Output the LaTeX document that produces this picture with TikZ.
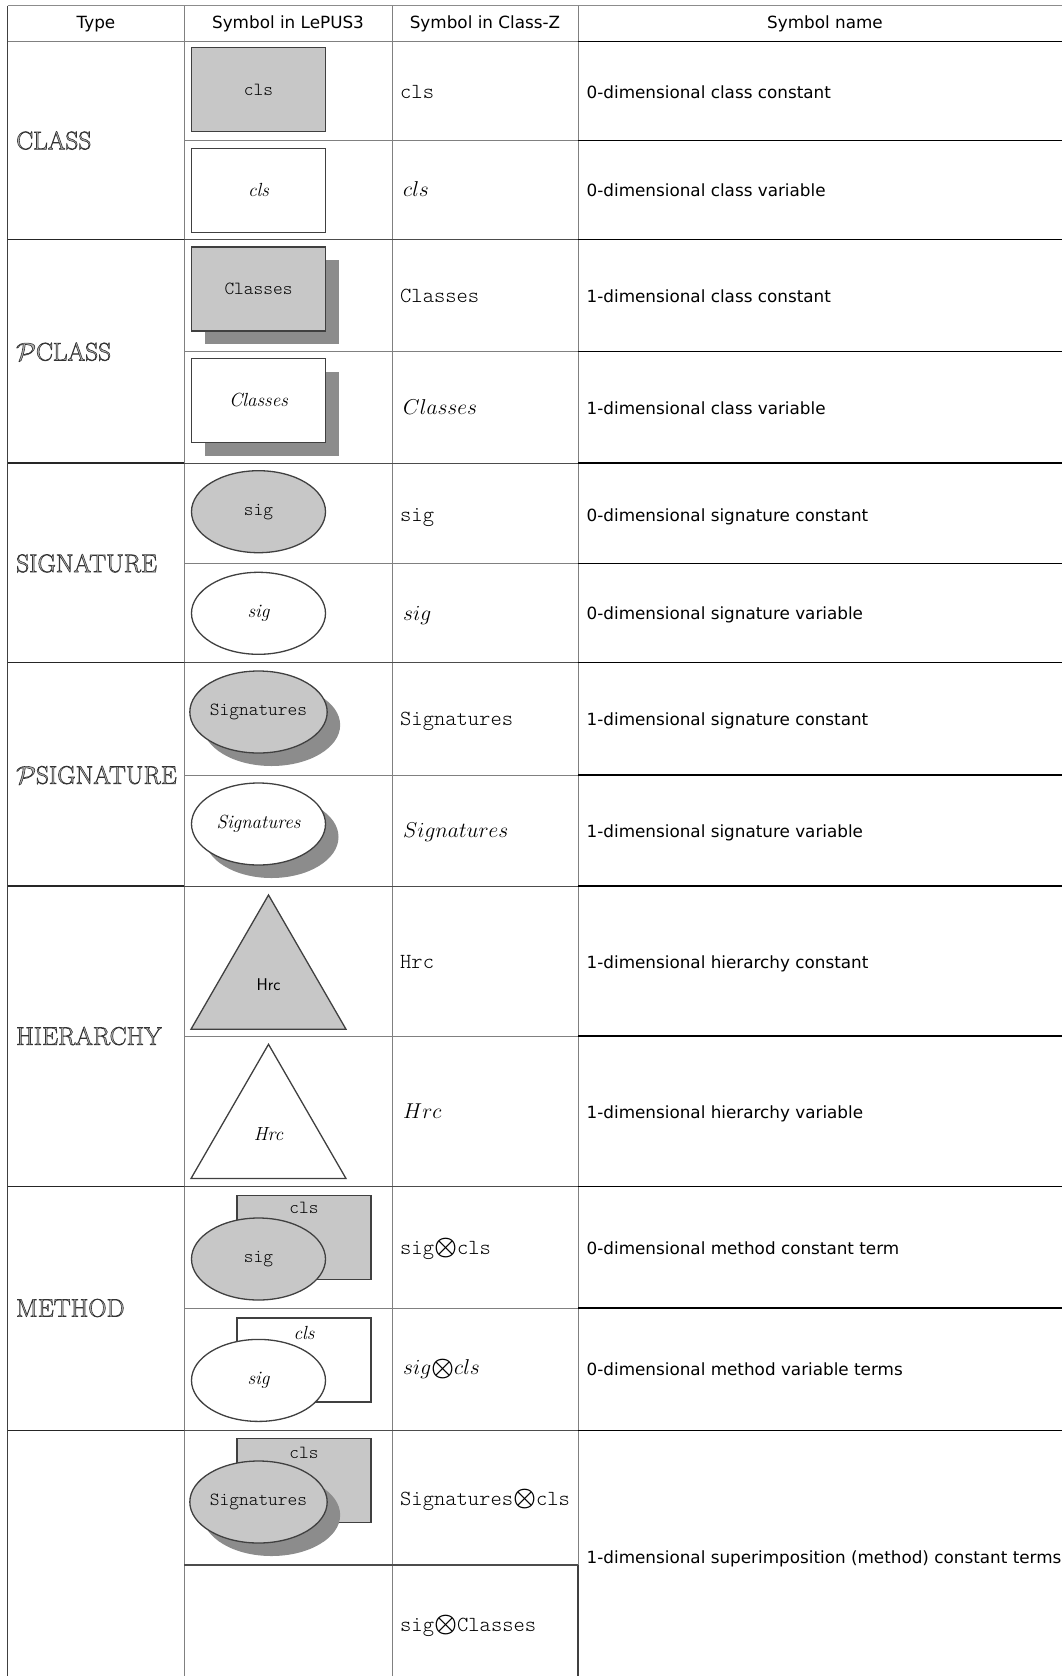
\documentclass[tikz,border=0pt]{standalone}
\usepackage{fix-cm}
\usepackage{amsmath,amssymb}
\usepackage{fontspec}
\newfontfamily\namefont{DejaVu Sans}
\newfontfamily\zfont{Latin Modern Mono Light}
\usetikzlibrary{shapes.geometric,shadows}

% engraved look for the type names
\newcommand\engrave[1]{\special{pdf:literal direct 0.2 G 0.6 w 2 Tr}#1\special{pdf:literal direct 0 Tr}}
\newcommand\czprod{\raisebox{-0.5pt}{\scalebox{1.2}{$\boldsymbol{\otimes}$}}}

\begin{document}
\begin{tikzpicture}[x=1pt, y=-1pt,
  gridline/.style={draw=black!50, line width=1pt},
  rowline/.style={draw=black!50, line width=1pt},
  groupline/.style={draw=black!85, line width=1.5pt},
  nameline/.style={draw=black, line width=1.5pt},
  hdr/.style={font=\namefont\fontsize{16.8}{20}\selectfont, inner sep=0pt,
              text height=12pt, text depth=3pt},
  symname/.style={anchor=west, inner sep=0pt, text height=12pt, text depth=3pt,
                  font=\namefont\fontsize{16.8}{20}\selectfont},
  kind/.style={anchor=west, inner sep=0pt, text=black!30,
               font=\fontsize{25.4}{28}\selectfont},
  zcon/.style={anchor=west, inner sep=0pt, text height=14pt, text depth=4pt,
               font=\zfont\fontsize{21.5}{24}\selectfont},
  zvar/.style={anchor=west, inner sep=0pt, text height=14pt, text depth=4pt,
               font=\fontsize{21.5}{24}\selectfont},
  clsbox/.style={draw=black!75, line width=1.5pt, minimum width=134pt,
                 minimum height=84pt, inner sep=0pt},
  sigell/.style={ellipse, draw=black!75, line width=1.3pt, minimum width=134pt,
                 minimum height=82pt, inner sep=0pt},
  hrctri/.style={regular polygon, regular polygon sides=3, draw=black!75,
                 line width=1.3pt, minimum size=179pt, inner sep=0pt},
  konst/.style={fill=black!22},
  varb/.style={fill=white},
  dshadow/.style={drop shadow={shadow xshift=13pt, shadow yshift=-13pt,
                  fill=black!45, opacity=1}},
  lcon/.style={font=\zfont\fontsize{18.5}{20}\selectfont},
  lvar/.style={font=\itshape\fontsize{19}{21}\selectfont},
  lhrc/.style={font=\sffamily\fontsize{17}{20}\selectfont}
]
\useasboundingbox (0,0) rectangle (1062,1676);
\clip (0,0) rectangle (1062,1676);

% Table rules
\draw[draw=black!45, line width=1pt] (7.5,5.5) -- (1075,5.5);
\draw[draw=black!75, line width=1.5pt] (7.5,5.5) -- (7.5,1676);
\draw[gridline] (184,5.5) -- (184,1676);
\draw[gridline] (392,5.5) -- (392,1676);
\draw[gridline] (578,5.5) -- (578,1565);
\draw[draw=black!75, line width=1.5pt] (578,1565) -- (578,1676);
\draw[gridline] (7.5,41.7) -- (578,41.7);
\draw[draw=black, line width=1pt] (578,41.7) -- (1075,41.7);

% rows inside a group
\draw[rowline] (184,140.5) -- (578,140.5);   \draw[nameline] (578,140.5) -- (1075,140.5);
\draw[rowline] (184,351.7) -- (578,351.7);   \draw[nameline] (578,351.7) -- (1075,351.7);
\draw[rowline] (184,563.3) -- (578,563.3);   \draw[nameline] (578,563.3) -- (1075,563.3);
\draw[rowline] (184,775) -- (578,775);       \draw[nameline] (578,775) -- (1075,775);
\draw[rowline] (184,1036) -- (578,1036);     \draw[nameline] (578,1036) -- (1075,1036);
\draw[rowline] (184,1308) -- (578,1308);     \draw[nameline] (578,1308) -- (1075,1308);
\draw[draw=black!70, line width=1.2pt] (184,1565) -- (578,1565);

% group rules
\draw[groupline] (7.5,239.5) -- (184,239.5);  \draw[draw=black!70] (184,239.5) -- (578,239.5);  \draw[nameline] (578,239.5) -- (1075,239.5);
\draw[groupline] (7.5,463) -- (184,463);      \draw[draw=black!70] (184,463) -- (578,463);      \draw[nameline] (578,463) -- (1075,463);
\draw[groupline] (7.5,662.3) -- (184,662.3);  \draw[draw=black!70] (184,662.3) -- (578,662.3);  \draw[nameline] (578,662.3) -- (1075,662.3);
\draw[groupline] (7.5,886) -- (184,886);      \draw[draw=black!70] (184,886) -- (578,886);      \draw[nameline] (578,886) -- (1075,886);
\draw[groupline] (7.5,1186.5) -- (184,1186.5); \draw[draw=black!70] (184,1186.5) -- (578,1186.5); \draw[nameline] (578,1186.5) -- (1075,1186.5);
\draw[groupline] (7.5,1430.5) -- (184,1430.5); \draw[draw=black!70] (184,1430.5) -- (578,1430.5); \draw[nameline] (578,1430.5) -- (1075,1430.5);

% Header
\node[hdr] at (96,23.5)  (htype) {Type};
\node[hdr] at (288,23.5) (hlep)  {Symbol in LePUS3};
\node[hdr] at (485,23.5) (hcz)   {Symbol in Class-Z};
\node[hdr] at (825,23.5) (hname) {Symbol name};

% Type column
\node[kind] at (16,140.5)  (tclass)  {\engrave{CLASS}};
\node[kind] at (16,351.7)  (tpclass) {\engrave{$\mathcal{P}$CLASS}};
\node[kind] at (16,563.3)  (tsig)    {\engrave{SIGNATURE}};
\node[kind] at (16,775)    (tpsig)   {\engrave{$\mathcal{P}$SIGNATURE}};
\node[kind] at (16,1036)   (thrc)    {\engrave{HIERARCHY}};
\node[kind] at (16,1308)   (tmth)    {\engrave{METHOD}};

% LePUS3 symbols
\node[clsbox, konst, lcon] at (258.5,89.7)  (cls0) {cls};
\node[clsbox, varb, lvar]  at (258.5,190.3) (cls1) {cls};
\node[clsbox, konst, lcon, dshadow] at (258.5,289)   (pcls0) {Classes};
\node[clsbox, varb, lvar, dshadow]  at (258.5,400.5) (pcls1) {Classes};
\node[sigell, konst, lcon] at (258.5,511.7) (sig0) {sig};
\node[sigell, varb, lvar]  at (258.5,613.3) (sig1) {sig};
\node[sigell, konst, lcon, dshadow] at (258.5,712) (psig0) {Signatures};
\node[sigell, varb, lvar, dshadow]  at (258.5,824) (psig1) {Signatures};
\node[hrctri, konst, lhrc] at (268.5,984.5)  (hrc0) {Hrc};
\node[hrctri, varb, lvar]  at (268.5,1133.8) (hrc1) {Hrc};

% method terms
\node[clsbox, konst] at (304,1237.5) (mcls0) {};
\node[lcon] at (304,1208) (mclst0) {cls};
\node[sigell, konst, lcon] at (258.5,1259) (msig0) {sig};
\node[clsbox, varb] at (304,1360) (mcls1) {};
\node[lvar] at (304,1333) (mclst1) {cls};
\node[sigell, varb, lvar] at (258.5,1380.4) (msig1) {sig};
\node[clsbox, konst] at (304,1480.5) (scls) {};
\node[lcon] at (304,1453) (sclst) {cls};
\node[sigell, konst, lcon, dshadow] at (258.5,1502) (ssig) {Signatures};

% Class-Z column
\node[zcon] at (400,93)     (z1)  {cls};
\node[zvar] at (403,191)    (z2)  {$cls$};
\node[zcon] at (400,297)    (z3)  {Classes};
\node[zvar] at (403,409)    (z4)  {$Classes$};
\node[zcon] at (400,516)    (z5)  {sig};
\node[zvar] at (403,615)    (z6)  {$sig$};
\node[zcon] at (400,720)    (z7)  {Signatures};
\node[zvar] at (403,832)    (z8)  {$Signatures$};
\node[zcon] at (400,963)    (z9)  {Hrc};
\node[zvar] at (403,1113)   (z10) {$Hrc$};
\node[zcon] at (400,1249)   (z11) {sig\czprod cls};
\node[zvar] at (403,1369.6) (z12) {$sig$\czprod$cls$};
\node[zcon] at (400,1500)   (z13) {Signatures\czprod cls};
\node[zcon] at (400,1626)   (z14) {sig\czprod Classes};

% Symbol names
\node[symname] at (586.5,94)     (n1)  {0-dimensional class constant};
\node[symname] at (586.5,192)    (n2)  {0-dimensional class variable};
\node[symname] at (586.5,298)    (n3)  {1-dimensional class constant};
\node[symname] at (586.5,410)    (n4)  {1-dimensional class variable};
\node[symname] at (586.5,517)    (n5)  {0-dimensional signature constant};
\node[symname] at (586.5,615)    (n6)  {0-dimensional signature variable};
\node[symname] at (586.5,721)    (n7)  {1-dimensional signature constant};
\node[symname] at (586.5,833)    (n8)  {1-dimensional signature variable};
\node[symname] at (586.5,964)    (n9)  {1-dimensional hierarchy constant};
\node[symname] at (586.5,1114)   (n10) {1-dimensional hierarchy variable};
\node[symname] at (586.5,1250)   (n11) {0-dimensional method constant term};
\node[symname] at (586.5,1370.6) (n12) {0-dimensional method variable terms};
\node[symname] at (586.5,1559)   (n13) {1-dimensional superimposition (method) constant terms};

\end{tikzpicture}
\end{document}
